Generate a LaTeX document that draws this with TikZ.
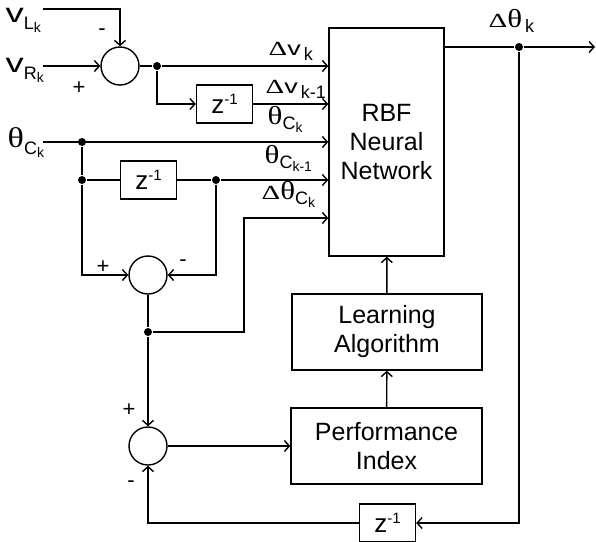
\documentclass[tikz,border=0pt]{standalone}
\usepackage{fontspec}
\setmainfont{Liberation Sans}
\newfontfamily\gr{Liberation Serif}
\usetikzlibrary{arrows.meta}
% widened main glyphs of the labels
\newcommand\gw[1]{\scalebox{1.45}[1]{#1}}
\newcommand\tht{\scalebox{1.55}[1.3]{\gr θ}}
\newcommand\dlt{\gw{\gr Δ}}
\newcommand\vv{\scalebox{1.35}[1]{v}}
% big labels (left inputs)
\newcommand\sbA[1]{\raisebox{-7pt}{\fontsize{18}{18}\selectfont #1}}
\newcommand\sbB[1]{\raisebox{-3pt}{\fontsize{14}{14}\selectfont #1}}
% small labels (RBF inputs)
\newcommand\sbC[1]{\raisebox{-5pt}{\fontsize{18}{18}\selectfont #1}}
\newcommand\sbD[1]{\raisebox{-3pt}{\fontsize{14}{14}\selectfont #1}}
\newcommand\zinv{z\raisebox{9pt}{\fontsize{15}{15}\selectfont -1}}
\begin{document}
\begin{tikzpicture}[x=1pt,y=-1pt, line width=1.4pt,
  >={Straight Barb[length=5pt,width=11pt]},
  box/.style={draw, inner sep=0pt, align=center, font=\fontsize{25}{29}\selectfont},
  zbox/.style={draw, inner sep=0pt, minimum width=56pt, minimum height=38pt, font=\fontsize{26}{26}\selectfont},
  sumc/.style={draw, circle, minimum size=38pt, inner sep=0pt},
  dot/.style={circle, fill, inner sep=0pt, minimum size=8pt},
  lab/.style={anchor=base west, inner sep=0pt},
  biglab/.style={lab, font=\fontsize{27}{27}\selectfont},
  thlab/.style={lab, font=\fontsize{22}{22}\selectfont},
  smlab/.style={lab, font=\fontsize{20}{20}\selectfont},
  sign/.style={inner sep=0pt, font=\fontsize{22}{22}\selectfont}]
\useasboundingbox (0,0) rectangle (596,541);

% blocks
\node[box, minimum width=115pt, minimum height=228pt] (rbf) at (386.5,142) {RBF\\Neural\\Network};
\node[box, minimum width=190pt, minimum height=76pt] (learn) at (387,332) {Learning\\Algorithm};
\node[box, minimum width=191pt, minimum height=76pt] (perf) at (386.5,446) {Performance\\Index};
\node[zbox] (z1) at (224.5,104) {\zinv};
\node[zbox] (z2) at (148.5,180) {\zinv};
\node[zbox] (z3) at (387.5,523) {\zinv};

% summing junctions
\node[sumc] (s1) at (120,66) {};
\node[sumc] (s2) at (148,275) {};
\node[sumc] (s3) at (148,446) {};

% junction dots
\node[dot] (d1) at (157,66) {};
\node[dot] (d2) at (82,142) {};
\node[dot] (d3) at (82,180) {};
\node[dot] (d4) at (216,180) {};
\node[dot] (d5) at (148,332) {};
\node[dot] (d6) at (519,47) {};

% free ends
\coordinate (vl) at (43,9);
\coordinate (vr) at (43,66);
\coordinate (th) at (43,142);
\coordinate (k5) at (244,218);
\coordinate (out) at (595,47);

% connectors
\draw[->] (vl) -| (s1);
\draw[->] (vr) -- (s1);
\draw (s1) -- (d1);
\draw[->] (d1) -- (d1 -| rbf.west);
\draw[->] (d1) |- (z1);
\draw[->] (z1) -- (z1 -| rbf.west);
\draw[->] (th) -- (th -| rbf.west);
\draw (d2) -- (d3);
\draw (d3) -- (z2);
\draw (z2) -- (d4);
\draw[->] (d4) -- (d4 -| rbf.west);
\draw[->] (d3) |- (s2);
\draw[->] (d4) |- (s2);
\draw (s2) -- (d5);
\draw[->] (d5) -- (s3);
\draw[->] (d5) -| (k5) -- (k5 -| rbf.west);
\draw[->] (s3) -- (perf);
\draw[->] (perf) -- (learn);
\draw[->] (learn) -- (rbf);
\draw (rbf.east |- d6) -- (d6);
\draw[->] (d6) -- (out);
\draw[->] (d6) |- (z3);
\draw[->] (z3) -| (s3);

% input labels
\node[biglab] at (5,22) {\vv\sbA{L\sbB{k}}};
\node[biglab] at (5,72) {\vv\sbA{R\sbB{k}}};
\node[thlab] at (7,147) {\tht\sbA{C\sbB{k}}};

% RBF input labels
\node[smlab] at (268,55) {\dlt\vv\sbC{\,k}};
\node[smlab] at (265,93) {\dlt\vv\sbC{\,k-1}};
\node[smlab] at (267,124) {\tht\sbC{C\sbD{k}}};
\node[smlab] at (264,163) {\tht\sbC{C\sbD{k-1}}};
\node[smlab] at (261,199) {\dlt\tht\sbC{C\sbD{k}}};
\node[smlab] at (488,27) {\dlt\tht\sbC{\,k}};

% signs
\node[sign] at (102,32) {-};
\node[sign] at (79,88) {+};
\node[sign] at (103,267) {+};
\node[sign] at (183,263) {-};
\node[sign] at (129,410) {+};
\node[sign] at (131,484) {-};
\end{tikzpicture}
\end{document}
